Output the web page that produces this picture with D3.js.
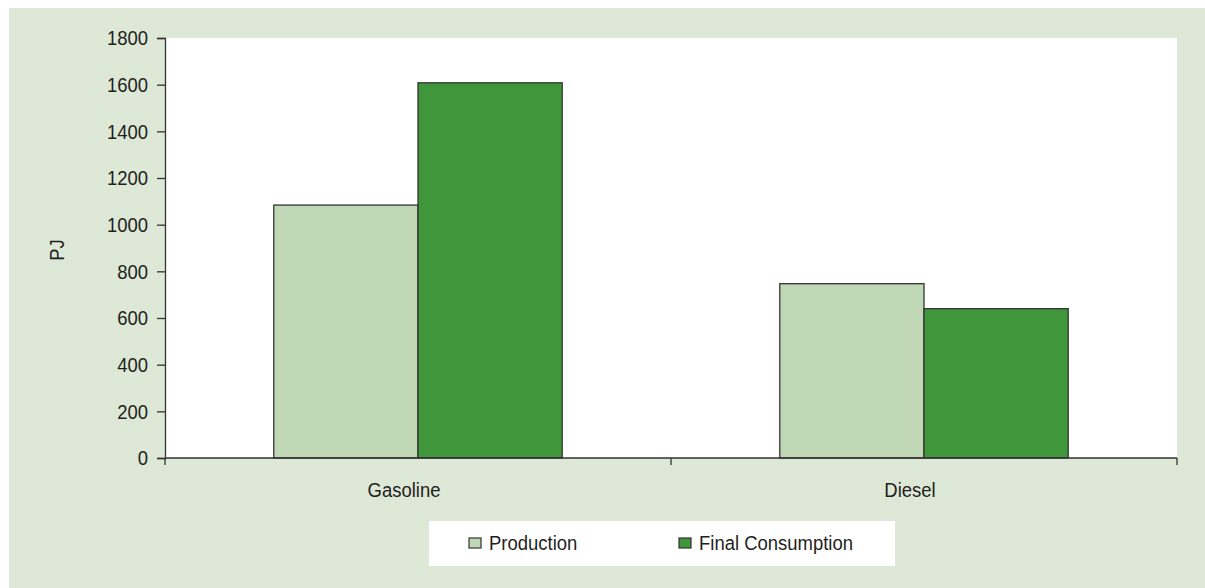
<!DOCTYPE html>
<html>
<head>
<meta charset="utf-8">
<script src="https://cdn.jsdelivr.net/npm/d3@7/dist/d3.min.js"></script>
<style>
  html, body { margin: 0; padding: 0; background: #ffffff; }
  svg { display: block; }
  text { font-family: "Liberation Sans", Arial, sans-serif; fill: #231f20; }
</style>
</head>
<body>
<svg id="chart" width="1205" height="588"></svg>
<script>
// Fuel categories, series names and values (PJ)
const categories = ["Gasoline", "Diesel"];
const seriesNames = ["Production", "Final Consumption"];
const production = [1084, 747];
const finalConsumption = [1608, 640];
const yTicks = [0, 200, 400, 600, 800, 1000, 1200, 1400, 1600, 1800];
const yLabel = "PJ";

const colors = ["#c0d8b6", "#40963a"];
const seriesValues = [production, finalConsumption];

// Condensed look: regular sans squeezed horizontally
const FONT_SIZE = 21;
const SQUEEZE = 0.88;

const W = 1205, H = 588;
const margin = { left: 165, top: 38, right: 28, bottom: 130 };
const plotW = W - margin.left - margin.right;
const plotH = H - margin.top - margin.bottom;

const svg = d3.select("#chart");

// Panel background
svg.append("rect")
  .attr("x", 9).attr("y", 8)
  .attr("width", W - 9).attr("height", H - 8)
  .attr("fill", "#dde8d7");

const g = svg.append("g").attr("transform", `translate(${margin.left},${margin.top})`);

// Plot area
g.append("rect")
  .attr("width", plotW).attr("height", plotH)
  .attr("fill", "#ffffff");

const x0 = d3.scaleBand().domain(categories).range([0, plotW]).paddingInner(0).paddingOuter(0);
const barGroupWidth = x0.bandwidth() * 0.57;
const x1 = d3.scaleBand().domain(seriesNames)
  .range([(x0.bandwidth() - barGroupWidth) / 2, (x0.bandwidth() + barGroupWidth) / 2]);
const y = d3.scaleLinear().domain([0, 1800]).range([plotH, 0]);

// Bars
const groups = g.selectAll("g.cat")
  .data(categories)
  .join("g")
  .attr("class", "cat")
  .attr("transform", d => `translate(${x0(d)},0)`);

groups.selectAll("rect")
  .data((c, i) => seriesNames.map((s, k) => ({ s, k, v: seriesValues[k][i] })))
  .join("rect")
  .attr("x", d => x1(d.s))
  .attr("y", d => y(d.v))
  .attr("width", x1.bandwidth())
  .attr("height", d => plotH - y(d.v))
  .attr("fill", d => colors[d.k])
  .attr("stroke", "#333333")
  .attr("stroke-width", 1.3);

// Y axis
const yAxis = g.append("g")
  .call(d3.axisLeft(y).tickValues(yTicks).tickSize(8).tickPadding(9).tickFormat(d3.format("d")));
yAxis.select(".domain").attr("stroke", "#333333").attr("stroke-width", 1.3);
yAxis.selectAll(".tick line").attr("stroke", "#333333").attr("stroke-width", 1.3);
yAxis.selectAll(".tick text")
  .attr("x", 0)
  .attr("transform", `translate(-17,0) scale(${SQUEEZE},1)`)
  .attr("font-size", FONT_SIZE)
  .style("font-family", "'Liberation Sans', Arial, sans-serif")
  .attr("fill", "#231f20");

// X axis with boundary ticks between categories
const xAxisG = g.append("g").attr("transform", `translate(0,${plotH})`);
xAxisG.append("line")
  .attr("x1", 0).attr("x2", plotW)
  .attr("stroke", "#333333").attr("stroke-width", 1.3);
const boundaries = [0, ...categories.map(c => x0(c) + x0.bandwidth())];
xAxisG.selectAll("line.tick")
  .data(boundaries)
  .join("line")
  .attr("class", "tick")
  .attr("x1", d => d).attr("x2", d => d)
  .attr("y1", 0).attr("y2", 7)
  .attr("stroke", "#333333").attr("stroke-width", 1.3);
// Category labels sit a little left of the band centre
xAxisG.selectAll("text")
  .data(categories)
  .join("text")
  .attr("transform", d => `translate(${x0(d) + x0.bandwidth() / 2 - 14},39) scale(${SQUEEZE},1)`)
  .attr("text-anchor", "middle")
  .attr("font-size", FONT_SIZE)
  .text(d => d);

// Y axis title
svg.append("text")
  .attr("transform", `translate(64,250) rotate(-90) scale(${SQUEEZE},1)`)
  .attr("text-anchor", "middle")
  .attr("font-size", FONT_SIZE)
  .text(yLabel);

// Legend
const legend = svg.append("g").attr("transform", "translate(429,521)");
legend.append("rect")
  .attr("width", 466).attr("height", 45)
  .attr("fill", "#ffffff");
const legendX = [40, 250];
const items = legend.selectAll("g.item")
  .data(seriesNames)
  .join("g")
  .attr("class", "item")
  .attr("transform", (d, i) => `translate(${legendX[i]},0)`);
items.append("rect")
  .attr("x", 0).attr("y", 17)
  .attr("width", 12).attr("height", 10)
  .attr("fill", (d, i) => colors[i])
  .attr("stroke", "#333333").attr("stroke-width", 1.2);
items.append("text")
  .attr("transform", `translate(20,29) scale(${SQUEEZE},1)`)
  .attr("font-size", FONT_SIZE)
  .text(d => d);
</script>
</body>
</html>
